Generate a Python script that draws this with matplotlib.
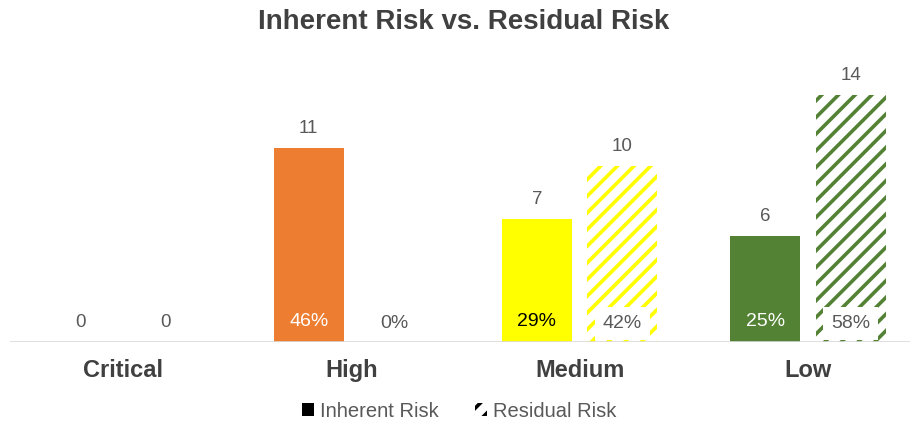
import matplotlib
matplotlib.use("Agg")
import matplotlib.pyplot as plt
from matplotlib.patches import Patch
import numpy as np

categories = ["Critical", "High", "Medium", "Low"]
inherent = [0, 11, 7, 6]
residual = [0, 0, 10, 14]
inherent_pct = [None, "46%", "29%", "25%"]
residual_pct = [None, "0%", "42%", "58%"]
colors = ["#ED7D31", "#ED7D31", "#FFFF00", "#548235"]
inh_pct_colors = ["#FFFFFF", "#FFFFFF", "#000000", "#FFFFFF"]

plt.rcParams['font.family'] = ['Liberation Sans', 'DejaVu Sans']
plt.rcParams['hatch.linewidth'] = 2.6

fig = plt.figure(figsize=(9.1, 4.23), dpi=100)
ax = fig.add_axes([10/910, 81/423, 900/910, 282/423])

x = np.arange(len(categories))
w = 0.307
off = 0.187

for i in range(len(categories)):
    ax.bar(x[i] - off, inherent[i], width=w, color=colors[i], linewidth=0)
    ax.bar(x[i] + off, residual[i], width=w, facecolor="white",
           edgecolor=colors[i], hatch="//", linewidth=0)

txt_gray = "#595959"
for i in range(len(categories)):
    for xi, v in ((x[i] - off, inherent[i]), (x[i] + off, residual[i])):
        if i == 1 and v == 0:
            continue
        ax.annotate(str(v), (xi, v), xytext=(0, 8), textcoords="offset points",
                    ha="center", va="bottom", fontsize=13.5, color=txt_gray)
    if inherent_pct[i]:
        ax.annotate(inherent_pct[i], (x[i] - off, 0), xytext=(0, 14.5),
                    textcoords="offset points", ha="center", va="center",
                    fontsize=14, color=inh_pct_colors[i])
    if residual_pct[i]:
        ax.annotate(residual_pct[i], (x[i] + off, 0), xytext=(0, 13.5),
                    textcoords="offset points", ha="center", va="center",
                    fontsize=14, color=txt_gray,
                    bbox=dict(boxstyle="square,pad=0.4", fc="white", ec="none"))

ax.axhline(0, color="#D9D9D9", lw=1.2)
ax.set_xlim(-0.495, 3.447)
ax.set_ylim(0, 16)
for s in ax.spines.values():
    s.set_visible(False)
ax.set_yticks([])
ax.set_xticks(x)
ax.set_xticklabels(categories, fontsize=17, fontweight="bold", color="#404040")
ax.tick_params(axis="x", length=0, pad=12)

fig.text(0.509, 1 - 22/423, "Inherent Risk vs. Residual Risk", ha="center",
         va="center", fontsize=20, fontweight="bold", color="#404040")

handles = [Patch(facecolor="black", edgecolor="black", linewidth=0),
           Patch(facecolor="white", edgecolor="black", hatch="//", linewidth=0)]
fig.legend(handles, ["Inherent Risk", "Residual Risk"], loc="center",
           bbox_to_anchor=(0.505, 1 - 411/423), ncol=2, frameon=False,
           fontsize=14.5, handlelength=0.6, handleheight=0.6, handletextpad=0.3,
           columnspacing=1.8, labelcolor=txt_gray)

fig.savefig("out.png", dpi=100)
